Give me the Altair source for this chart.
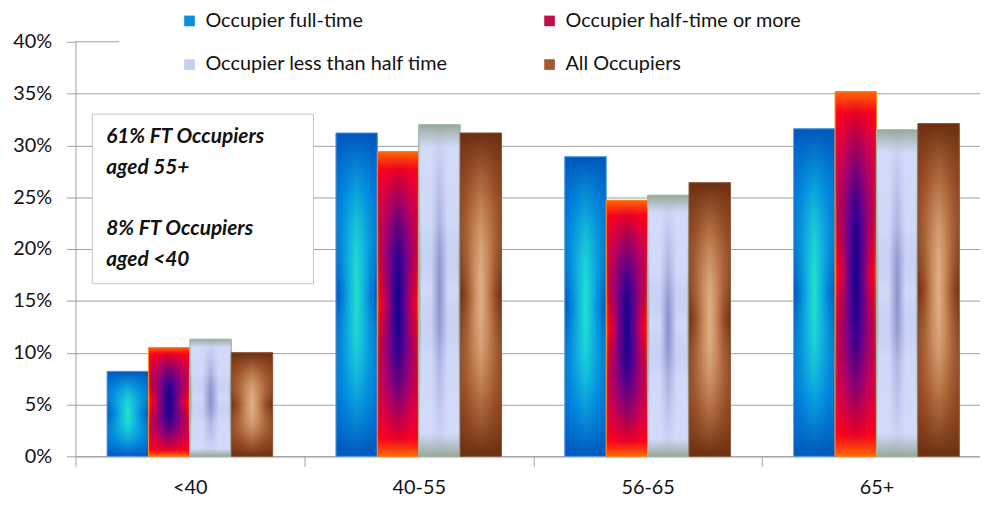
import altair as alt
import pandas as pd

# ---- data ----
ages = ["<40", "40-55", "56-65", "65+"]
series = ["Occupier full-time", "Occupier half-time or more",
          "Occupier less than half time", "All Occupiers"]
full_time = [8.2, 31.2, 28.9, 31.6]
half_time = [10.5, 29.4, 24.7, 35.2]
less_half = [11.3, 32.0, 25.2, 31.5]
all_occ = [10.0, 31.2, 26.4, 32.1]
y_ticks = [0, 5, 10, 15, 20, 25, 30, 35, 40]
note_first = ["61% FT Occupiers", "aged 55+"]
note_second = ["8% FT Occupiers", "aged <40"]

rows = []
for s, vals in zip(series, [full_time, half_time, less_half, all_occ]):
    for a, v in zip(ages, vals):
        rows.append({"age": a, "series": s, "value": v})
df = pd.DataFrame(rows)

# ---- styling ----
FONT = "Lato"
GRID = "#A0A0A0"
legend_colors = ["#0A8FD8", "#C0104A", "#C6CEEE", "#A0582C"]
borders = ["#5C9EE6", "#FF8A1A", "#A4B4A0", "#8C5A3E"]
# colour profiles from the bar edge (0) to the bar centre (1)
profiles = [
    [(0.0, "#0055BB"), (0.35, "#0082DD"), (0.7, "#12B8E0"), (1.0, "#22E0CC")],
    [(0.0, "#FF6A00"), (0.12, "#FF0018"), (0.4, "#C0005A"), (0.7, "#600092"), (1.0, "#12008A")],
    [(0.0, "#98A898"), (0.14, "#D2DBFA"), (0.6, "#D0D9F8"), (1.0, "#8A92CC")],
    [(0.0, "#6A2E10"), (0.35, "#9C5026"), (0.7, "#C88A5A"), (1.0, "#DDB088")],
]


def rgba(hx, a):
    h = hx.lstrip("#")
    r, g, b = int(h[0:2], 16), int(h[2:4], 16), int(h[4:6], 16)
    return f"rgba({r},{g},{b},{a:.3f})"


def gradient(profile, vertical):
    left, right = [], []
    for d, c in profile:
        col = rgba(c, (1 - d) ** 0.9) if vertical else c
        left.append(alt.GradientStop(color=col, offset=d / 2))
    for d, c in reversed(profile):
        if d == 1.0:
            continue
        col = rgba(c, (1 - d) ** 0.9) if vertical else c
        right.append(alt.GradientStop(color=col, offset=1 - d / 2))
    if vertical:
        return alt.LinearGradient(gradient="linear", stops=left + right, x1=0, x2=0, y1=0, y2=1)
    return alt.LinearGradient(gradient="linear", stops=left + right, x1=0, x2=1, y1=0, y2=0)


x_enc = alt.X(
    "age:N", sort=ages, title=None,
    scale=alt.Scale(domain=ages, range=[0, 923], paddingInner=0, paddingOuter=0),
    axis=alt.Axis(labelAngle=0, tickBand="extent", tickSize=10, tickColor=GRID,
                  domainColor=GRID, labelFont=FONT, labelFontSize=20, labelColor="#111",
                  labelPadding=11, grid=False),
)
y_enc = alt.Y(
    "value:Q", title=None,
    scale=alt.Scale(domain=[0, 40], nice=False),
    axis=alt.Axis(values=y_ticks, labelExpr="datum.value + '%'", tickSize=9, tickColor=GRID,
                  domainColor=GRID, labelFont=FONT, labelFontSize=20, labelColor="#111",
                  labelPadding=15,
                  gridColor={"condition": {"test": "datum.value >= 40", "value": "transparent"},
                             "value": GRID}),
)
xo_enc = alt.XOffset("series:N", scale=alt.Scale(domain=series, paddingInner=0, paddingOuter=0.764))

base = alt.Chart(df)

legend_layer = base.mark_bar().encode(
    x=x_enc, y=y_enc, xOffset=xo_enc,
    color=alt.Color("series:N", scale=alt.Scale(domain=series, range=legend_colors),
                    legend=alt.Legend(orient="none", legendX=105, legendY=-31, direction="horizontal",
                                      columns=2, title=None, symbolType="square", symbolSize=115,
                                      symbolStrokeWidth=0, labelFont=FONT, labelFontSize=20,
                                      labelColor="#111", labelOffset=6, rowPadding=24,
                                      columnPadding=92, padding=0, labelLimit=400)),
)

layers = [legend_layer]
for s, prof, bc in zip(series, profiles, borders):
    sub = base.transform_filter(alt.datum.series == s)
    layers.append(sub.mark_bar(fill=gradient(prof, False)).encode(x=x_enc, y=y_enc, xOffset=xo_enc))
    layers.append(sub.mark_bar(fill=gradient(prof, True), stroke=bc, strokeWidth=1)
                  .encode(x=x_enc, y=y_enc, xOffset=xo_enc))

one = pd.DataFrame({"k": [0]})
top_rule = alt.Chart(one).mark_rule(color=GRID, strokeWidth=1).encode(
    y=alt.datum(40), x=alt.value(0), x2=alt.value(44))
note_box = alt.Chart(one).mark_rect(fill="white", stroke="#C4C4C4", strokeWidth=1).encode(
    x=alt.value(17), x2=alt.value(240), y=alt.value(73), y2=alt.value(244))
text_style = dict(align="left", baseline="top", lineBreak="\n", lineHeight=31, font=FONT,
                  fontSize=21, fontStyle="italic", fontWeight="bold", color="#111")
note_text1 = alt.Chart(one).mark_text(**text_style).encode(
    x=alt.value(31), y=alt.value(85), text=alt.value("\n".join(note_first)))
note_text2 = alt.Chart(one).mark_text(**text_style).encode(
    x=alt.value(31), y=alt.value(178), text=alt.value("\n".join(note_second)))

chart = alt.layer(*layers, top_rule, note_box, note_text1, note_text2).properties(
    width=912, height=418,
    padding={"left": 68, "top": 32, "right": 0, "bottom": 39},
    autosize=alt.AutoSizeParams(type="none"),
).configure_view(stroke=None)

chart.save("out.html", embed_options={"renderer": "svg", "actions": False})
